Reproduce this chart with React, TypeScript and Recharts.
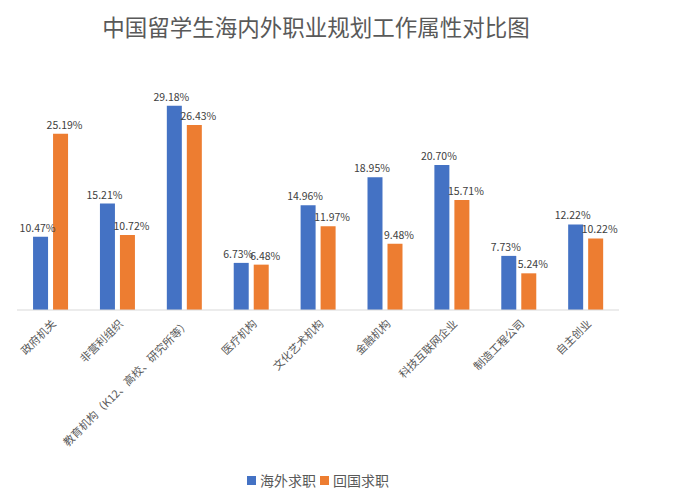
import { BarChart, Bar, XAxis, YAxis, Legend, LabelList } from "recharts";

const categories = [
  "政府机关",
  "非营利组织",
  "教育机构（K12、高校、研究所等）",
  "医疗机构",
  "文化艺术机构",
  "金融机构",
  "科技互联网企业",
  "制造工程公司",
  "自主创业",
];

const overseas = [10.47, 15.21, 29.18, 6.73, 14.96, 18.95, 20.7, 7.73, 12.22];
const domestic = [25.19, 10.72, 26.43, 6.48, 11.97, 9.48, 15.71, 5.24, 10.22];

const seriesNames = ["海外求职", "回国求职"];
const seriesColors = ["#4472C4", "#ED7D31"];

const data = categories.map((name, i) => ({
  name,
  overseas: overseas[i],
  domestic: domestic[i],
}));

const FONT = '"Noto Sans CJK SC", "Noto Sans", sans-serif';

function AngledTick({ x, y, payload }: any) {
  return (
    <text
      x={x}
      y={y}
      dy={9}
      textAnchor="end"
      transform={`rotate(-45, ${x}, ${y})`}
      fontSize={11}
      fill="#595959"
      fontFamily={FONT}
    >
      {payload.value}
    </text>
  );
}

// keep legend in series order (recharts sorts by name otherwise)
function LegendContent() {
  return (
    <div style={{ display: "flex", justifyContent: "center", alignItems: "center", paddingLeft: 4 }}>
      {seriesNames.map((n, i) => (
        <span key={n} style={{ display: "flex", alignItems: "center", marginRight: 4 }}>
          <span style={{ width: 9, height: 9, background: seriesColors[i], marginRight: 4 }} />
          <span style={{ fontSize: 14, color: "#595959" }}>{n}</span>
        </span>
      ))}
    </div>
  );
}

const pct = (v: any) => `${Number(v).toFixed(2)}%`;

export default function App() {
  return (
    <div style={{ position: "relative", width: 690, height: 492, fontFamily: FONT }}>
      <div
        style={{
          position: "absolute",
          left: 0,
          width: 616,
          top: 2,
          textAlign: "center",
          fontSize: 22.5,
          color: "#595959",
        }}
      >
        中国留学生海内外职业规划工作属性对比图
      </div>
      <BarChart
        width={690}
        height={492}
        data={data}
        margin={{ top: 92, right: 79, left: 9, bottom: 0 }}
        barGap={5}
        barCategoryGap="24%"
      >
        <XAxis
          dataKey="name"
          interval={0}
          height={160}
          tickLine={false}
          axisLine={{ stroke: "#d9d9d9" }}
          tick={<AngledTick />}
        />
        <YAxis hide domain={[0, 30]} />
        <Legend verticalAlign="bottom" height={30} content={<LegendContent />} />
        <Bar dataKey="overseas" name={seriesNames[0]} fill={seriesColors[0]} isAnimationActive={false}>
          <LabelList dataKey="overseas" position="top" formatter={pct} fontSize={10.5} fill="#404040" dx={-3} />
        </Bar>
        <Bar dataKey="domestic" name={seriesNames[1]} fill={seriesColors[1]} isAnimationActive={false}>
          <LabelList dataKey="domestic" position="top" formatter={pct} fontSize={10.5} fill="#404040" dx={4} />
        </Bar>
      </BarChart>
    </div>
  );
}
